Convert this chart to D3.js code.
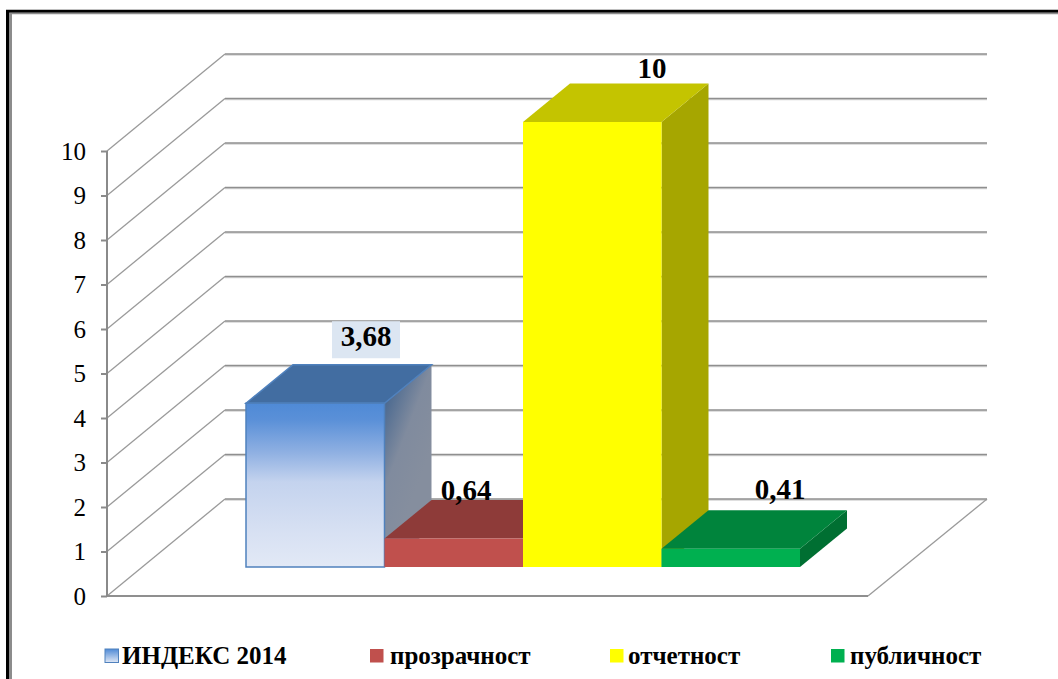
<!DOCTYPE html>
<html><head><meta charset="utf-8">
<script src="https://cdn.jsdelivr.net/npm/d3@7/dist/d3.min.js"></script>
<style>html,body{margin:0;padding:0;background:#fff}svg{display:block}</style>
</head><body><svg id="c" width="1058" height="679"></svg>
<script>
const categories = ["ИНДЕКС 2014","прозрачност","отчетност","публичност"];
const values = [3.68,0.64,10,0.41];
const valueLabels = ["3,68","0,64","10","0,41"];
const tickValues = [0,1,2,3,4,5,6,7,8,9,10];
const frontColors = ["url(#gFront)","#c0504d","#ffff00","#00b050"];
const topColors = ["#426da1","#8e3b39","#c4c400","#00843c"];
const sideColors = ["url(#gSide)","#8e3b39","#a6a600","#006f32"];
const legendX = [105,370,610,831];
const legendTextX = [122,390,628,850];
const legendColors = ["url(#gLeg)","#c0504d","#ffff00","#00b050"];

const svg = d3.select("#c");
const defs = svg.append("defs");
function grad(id,x2,y2,stops){
  const g=defs.append("linearGradient").attr("id",id).attr("x1",0).attr("y1",0).attr("x2",x2).attr("y2",y2);
  stops.forEach(s=>g.append("stop").attr("offset",s[0]).attr("stop-color",s[1]));
}
grad("gFront",0,1,[[0,"#4f8ad6"],[0.1,"#5a90d8"],[0.3,"#8fb0e2"],[0.48,"#c4d3ee"],[0.8,"#d8e1f3"],[1,"#e2e9f6"]]);
grad("gSide",0.45,0.75,[[0,"#335a8a"],[0.6,"#808b9e"],[1,"#858e9e"]]);
grad("gLeg",0,1,[[0,"#4f8ad6"],[1,"#dfe7f5"]]);

// frame: open on the right, running off the bottom and right edges
svg.append("path").attr("d","M7.5,679V11.2H1058").attr("fill","none").attr("stroke","#000").attr("stroke-width",3);
svg.append("path").attr("d","M10.5,679V13.5H1058").attr("fill","none").attr("stroke","#8c8c8c").attr("stroke-width",1.6);
svg.append("line").attr("x1",10.5).attr("x2",10.5).attr("y1",13).attr("y2",679).attr("stroke","#8c8c8c").attr("stroke-width",3);

// scales
const y = d3.scaleLinear().domain([0,10]).range([596,151]);
const x = d3.scaleBand().domain(categories).range([246,800]);
const floorLeft = 107, floorRight = 868, depthX = 118, depthY = 97;
const barDepthX = 47, barDepthY = 38.5, baseLift = 29;

// walls
const grid = svg.append("g").attr("fill","none");
tickValues.forEach(t=>{
  const yy=y(t);
  grid.append("line").attr("x1",floorLeft).attr("y1",yy).attr("x2",floorLeft+depthX).attr("y2",yy-depthY)
    .attr("stroke","#9a9a9a").attr("stroke-width",1.3);
  grid.append("line").attr("x1",floorLeft+depthX).attr("y1",yy-depthY+1).attr("x2",987).attr("y2",yy-depthY+1)
    .attr("stroke","#d4d4d4").attr("stroke-width",1.5);
  grid.append("line").attr("x1",floorLeft+depthX).attr("y1",yy-depthY).attr("x2",987).attr("y2",yy-depthY)
    .attr("stroke","#8f8f8f").attr("stroke-width",1.5);
});
grid.append("line").attr("x1",floorRight).attr("y1",y(0)).attr("x2",floorRight+depthX+1).attr("y2",y(0)-depthY)
  .attr("stroke","#9a9a9a").attr("stroke-width",1.3);
grid.append("line").attr("x1",floorLeft).attr("y1",y(0)).attr("x2",floorRight).attr("y2",y(0))
  .attr("stroke","#8f8f8f").attr("stroke-width",2);

// axis
const axis = d3.axisLeft(y).tickValues(tickValues).tickSize(6).tickPadding(15).tickFormat(d3.format("d"));
const ag = svg.append("g").attr("transform",`translate(${floorLeft},0)`).call(axis);
ag.select(".domain").attr("stroke","#8a8a8a").attr("stroke-width",2).attr("d",`M-0,${y(10)}V${y(0)}`);
ag.selectAll(".tick line").attr("stroke","#8a8a8a").attr("stroke-width",2);
ag.selectAll("text").attr("font-family","'Liberation Serif'").attr("font-size",25).attr("fill","#000").attr("dy","0.32em");

// bars
const base = y(0)-baseLift;
const h = v => y(0)-y(v);
const bars = svg.append("g");
categories.forEach((c,i)=>{
  const x0=x(c), x1=x0+x.bandwidth(), t=base-h(values[i]);
  const g=bars.append("g");
  const edge = i===0 ? "#4f81bd" : "none";
  g.append("polygon").attr("points",[[x1,t],[x1+barDepthX,t-barDepthY],[x1+barDepthX,Math.max(base-barDepthY,t-barDepthY)],[x1,base]].join(" ")).attr("fill",sideColors[i]);
  g.append("polygon").attr("points",[[x0,t],[x0+barDepthX,t-barDepthY],[x1+barDepthX,t-barDepthY],[x1,t]].join(" ")).attr("fill",topColors[i]).attr("stroke",edge).attr("stroke-width",1.5);
  g.append("rect").attr("x",x0).attr("y",t).attr("width",x.bandwidth()).attr("height",base-t).attr("fill",frontColors[i]).attr("stroke",edge).attr("stroke-width",1.5);
});
// value labels
const labelDX=[120,81.5,129,118.5], labelDY=[-57,-39,-44,-50];
categories.forEach((c,i)=>{
  const t=base-h(values[i]);
  const cx=x(c)+labelDX[i], by=t+labelDY[i];
  if(i===0) svg.append("rect").attr("x",cx-34).attr("y",by-25).attr("width",68).attr("height",37).attr("fill","#dce6f2");
  svg.append("text").attr("x",cx).attr("y",by).attr("text-anchor","middle")
    .attr("font-family","'Liberation Serif'").attr("font-weight","bold").attr("font-size",29).attr("fill","#000").text(valueLabels[i]);
});
// legend
categories.forEach((c,i)=>{
  svg.append("rect").attr("x",legendX[i]).attr("y",649).attr("width",13.5).attr("height",13.5).attr("fill",legendColors[i])
    .attr("stroke",i===0?"#4f81bd":"none");
  svg.append("text").attr("x",legendTextX[i]).attr("y",664).attr("font-family","'Liberation Serif'").attr("font-weight","bold").attr("font-size",25).attr("fill","#000").text(c);
});
</script></body></html>
